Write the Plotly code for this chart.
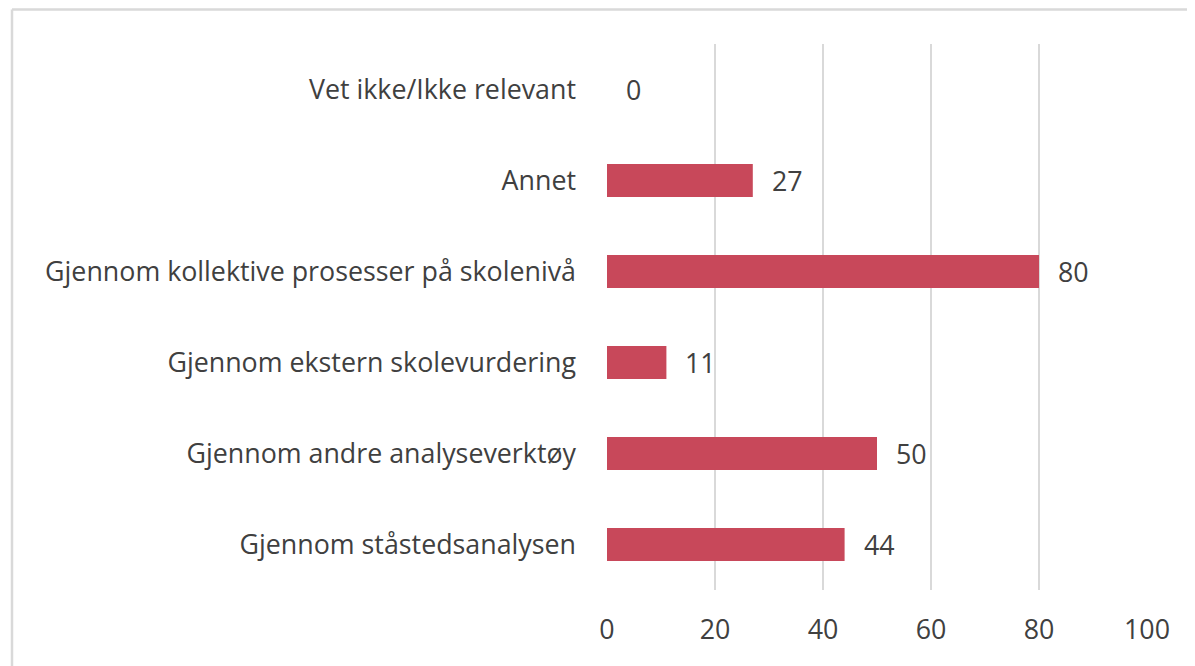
import plotly.graph_objects as go

categories = [
    "Gjennom ståstedsanalysen",
    "Gjennom andre analyseverktøy",
    "Gjennom ekstern skolevurdering",
    "Gjennom kollektive prosesser på skolenivå",
    "Annet",
    "Vet ikke/Ikke relevant",
]
values = [44, 50, 11, 80, 27, 0]
x_ticks = [0, 20, 40, 60, 80, 100]

text_color = "#404040"
bar_color = "#C8485A"
font_family = "Open Sans, Liberation Sans, sans-serif"
fs = 26.8

# page has an 8px body margin; size figure to fit the 1195x666 window
OFF = 8
W, H = 1195 - OFF, 666 - OFF
ml, mr, mt, mb = 607 - OFF, 48, 44 - OFF, 76
pw, ph = W - ml - mr, H - mt - mb

fig = go.Figure(
    go.Bar(
        x=values,
        y=categories,
        orientation="h",
        marker=dict(color=bar_color, line=dict(width=0)),
        hoverinfo="x+y",
    )
)

for c, v in zip(categories, values):
    fig.add_annotation(
        x=v, y=c, text=str(v), showarrow=False,
        xanchor="left", xshift=17,
        font=dict(size=fs, color=text_color, family=font_family),
    )

def fx(px):
    return (px - ml) / pw

def fy(py):
    return 1 - (py - mt) / ph

border = dict(color="#D9D9D9", width=2.5)
# top border
fig.add_shape(type="line", xref="paper", yref="paper",
              x0=fx(4), x1=fx(W + 20), y0=fy(1.5), y1=fy(1.5),
              line=border, layer="below")
# left border
fig.add_shape(type="line", xref="paper", yref="paper",
              x0=fx(4), x1=fx(4), y0=fy(1.5), y1=fy(H + 20),
              line=border, layer="below")

fig.update_layout(
    width=W, height=H,
    margin=dict(l=ml, r=mr, t=mt, b=mb, pad=0),
    paper_bgcolor="white", plot_bgcolor="white",
    bargap=0.64,
    showlegend=False,
    font=dict(family=font_family, size=fs, color=text_color),
    xaxis=dict(
        range=[0, 100], tickvals=x_ticks, showgrid=True,
        gridcolor="#D9D9D9", gridwidth=2, zeroline=False,
        showline=False, ticks="", ticklabelstandoff=21,
        tickfont=dict(size=fs, color=text_color),
        fixedrange=True,
    ),
    yaxis=dict(
        categoryorder="array", categoryarray=categories,
        showgrid=False, zeroline=False, showline=False,
        ticks="", ticklabelstandoff=30,
        tickfont=dict(size=fs, color=text_color),
        fixedrange=True,
    ),
)

fig.write_html("out.html")
